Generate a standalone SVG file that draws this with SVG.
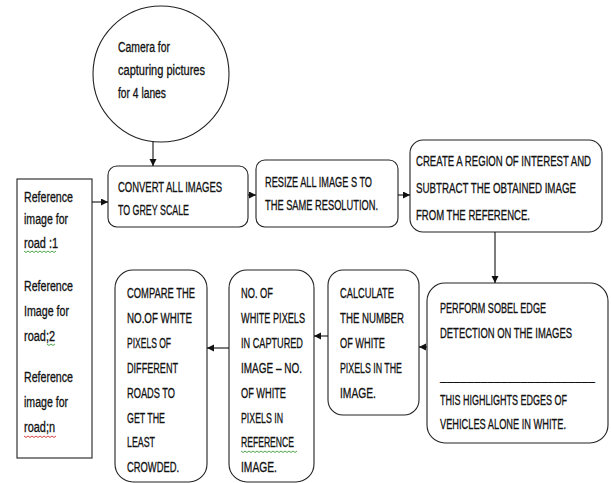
<svg xmlns="http://www.w3.org/2000/svg" width="611" height="483" viewBox="0 0 611 483">
<style>
.shape{fill:#fff;stroke:#222;stroke-width:1.1}
.t{font-family:"Liberation Sans",Arial,sans-serif;font-size:14px;fill:#111;stroke:#111;stroke-width:0.3}
.u{stroke:none}
.conn{stroke:#111;stroke-width:1.1;fill:none;marker-end:url(#arr)}
.sqg{fill:none;stroke:#3a9a3a;stroke-width:0.9}
.sqr{fill:none;stroke:#d03030;stroke-width:0.9}
</style>
<defs>
<marker id="arr" markerUnits="userSpaceOnUse" markerWidth="8" markerHeight="8" refX="7" refY="3.5" orient="auto">
<path d="M0,0 L7,3.5 L0,7 z" fill="#111"/>
</marker>
</defs>
<rect width="611" height="483" fill="#fff"/>

<g id="camera">
<circle class="shape" cx="161" cy="74" r="68"/>
<g transform="translate(118,0) scale(0.66,1)">
<text class="t" x="0" y="52" textLength="78.8" lengthAdjust="spacingAndGlyphs">Camera for</text>
<text class="t" x="0" y="75" textLength="131.8" lengthAdjust="spacingAndGlyphs">capturing pictures</text>
<text class="t" x="0" y="98" textLength="72.7" lengthAdjust="spacingAndGlyphs">for 4 lanes</text>
</g>
</g>

<g id="reference">
<rect class="shape" x="17" y="179" width="75" height="279"/>
<g transform="translate(24,0) scale(0.66,1)">
<text class="t" x="0" y="202" textLength="74.2" lengthAdjust="spacingAndGlyphs">Reference</text>
<text class="t" x="0" y="224" textLength="66.7" lengthAdjust="spacingAndGlyphs">image for</text>
<text class="t" x="0" y="248" textLength="51.5" lengthAdjust="spacingAndGlyphs">road :1</text>
<text class="t" x="0" y="291" textLength="74.2" lengthAdjust="spacingAndGlyphs">Reference</text>
<text class="t" x="0" y="316" textLength="68.2" lengthAdjust="spacingAndGlyphs">Image for</text>
<text class="t" x="0" y="341" textLength="47" lengthAdjust="spacingAndGlyphs">road;2</text>
<text class="t" x="0" y="382" textLength="74.2" lengthAdjust="spacingAndGlyphs">Reference</text>
<text class="t" x="0" y="407" textLength="66.7" lengthAdjust="spacingAndGlyphs">image for</text>
<text class="t" x="0" y="432" textLength="47" lengthAdjust="spacingAndGlyphs">road;n</text>
</g>
<path class="sqg" d="M24,251 l2,1.5 l2,-1.5 l2,1.5 l2,-1.5 l2,1.5 l2,-1.5 l2,1.5 l2,-1.5 l2,1.5 l2,-1.5 l2,1.5 l2,-1.5 l2,1.5 l2,-1.5 l2,1.5 l2,-1.5"/>
<path class="sqg" d="M47,344 l2,1.5 l2,-1.5 l2,1.5 l2,-1.5"/>
<path class="sqr" d="M24,436 l2,1.5 l2,-1.5 l2,1.5 l2,-1.5 l2,1.5 l2,-1.5 l2,1.5 l2,-1.5 l2,1.5 l2,-1.5 l2,1.5 l2,-1.5 l2,1.5 l2,-1.5 l2,1.5 l2,-1.5"/>
</g>

<g id="convert">
<rect class="shape" x="108" y="166" width="140" height="61" rx="9"/>
<g transform="translate(118,0) scale(0.66,1)">
<text class="t" x="0" y="192" textLength="157.6" lengthAdjust="spacingAndGlyphs">CONVERT ALL IMAGES</text>
<text class="t" x="0" y="215" textLength="107.6" lengthAdjust="spacingAndGlyphs">TO GREY SCALE</text>
</g>
</g>

<g id="resize">
<rect class="shape" x="256" y="160" width="142" height="67" rx="9"/>
<g transform="translate(265,0) scale(0.66,1)">
<text class="t" x="0" y="187" textLength="162.1" lengthAdjust="spacingAndGlyphs">RESIZE ALL IMAGE S TO</text>
<text class="t" x="0" y="210" textLength="171.2" lengthAdjust="spacingAndGlyphs">THE SAME RESOLUTION.</text>
</g>
</g>

<g id="roi">
<rect class="shape" x="410" y="140" width="192" height="92" rx="13"/>
<g transform="translate(416,0) scale(0.66,1)">
<text class="t" x="0" y="166" textLength="265.2" lengthAdjust="spacingAndGlyphs">CREATE A REGION OF INTEREST AND</text>
<text class="t" x="0" y="193" textLength="242.4" lengthAdjust="spacingAndGlyphs">SUBTRACT THE OBTAINED IMAGE</text>
<text class="t" x="0" y="220" textLength="172.7" lengthAdjust="spacingAndGlyphs">FROM THE REFERENCE.</text>
</g>
</g>

<g id="sobel">
<rect class="shape" x="427" y="283" width="181" height="160" rx="18"/>
<g transform="translate(440,0) scale(0.66,1)">
<text class="t" x="0" y="313" textLength="160.6" lengthAdjust="spacingAndGlyphs">PERFORM SOBEL EDGE</text>
<text class="t" x="0" y="338" textLength="200" lengthAdjust="spacingAndGlyphs">DETECTION ON THE IMAGES</text>
<text class="t u" x="0" y="380" textLength="234.8" lengthAdjust="spacingAndGlyphs">_______________________</text>
<text class="t" x="0" y="405" textLength="192.4" lengthAdjust="spacingAndGlyphs">THIS HIGHLIGHTS EDGES OF</text>
<text class="t" x="0" y="429" textLength="190.9" lengthAdjust="spacingAndGlyphs">VEHICLES ALONE IN WHITE.</text>
</g>
</g>

<g id="calculate">
<rect class="shape" x="328" y="270" width="91" height="145" rx="15"/>
<g transform="translate(340,0) scale(0.66,1)">
<text class="t" x="0" y="298" textLength="81.8" lengthAdjust="spacingAndGlyphs">CALCULATE</text>
<text class="t" x="0" y="323" textLength="97" lengthAdjust="spacingAndGlyphs">THE NUMBER</text>
<text class="t" x="0" y="348" textLength="68.2" lengthAdjust="spacingAndGlyphs">OF WHITE</text>
<text class="t" x="0" y="373" textLength="93.9" lengthAdjust="spacingAndGlyphs">PIXELS IN THE</text>
<text class="t" x="0" y="398" textLength="54.5" lengthAdjust="spacingAndGlyphs">IMAGE.</text>
</g>
</g>

<g id="difference">
<rect class="shape" x="229" y="270" width="85" height="212" rx="18"/>
<g transform="translate(241,0) scale(0.66,1)">
<text class="t" x="0" y="298" textLength="48.5" lengthAdjust="spacingAndGlyphs">NO. OF</text>
<text class="t" x="0" y="323" textLength="97" lengthAdjust="spacingAndGlyphs">WHITE PIXELS</text>
<text class="t" x="0" y="348" textLength="93.9" lengthAdjust="spacingAndGlyphs">IN CAPTURED</text>
<text class="t" x="0" y="373" textLength="92.4" lengthAdjust="spacingAndGlyphs">IMAGE – NO.</text>
<text class="t" x="0" y="398" textLength="68.2" lengthAdjust="spacingAndGlyphs">OF WHITE</text>
<text class="t" x="0" y="423" textLength="63.6" lengthAdjust="spacingAndGlyphs">PIXELS IN</text>
<text class="t" x="0" y="447" textLength="80.3" lengthAdjust="spacingAndGlyphs">REFERENCE</text>
<text class="t" x="0" y="472" textLength="54.5" lengthAdjust="spacingAndGlyphs">IMAGE.</text>
</g>
<path class="sqg" d="M241,451 l2,1.5 l2,-1.5 l2,1.5 l2,-1.5 l2,1.5 l2,-1.5 l2,1.5 l2,-1.5 l2,1.5 l2,-1.5 l2,1.5 l2,-1.5 l2,1.5 l2,-1.5 l2,1.5 l2,-1.5 l2,1.5 l2,-1.5 l2,1.5 l2,-1.5 l2,1.5 l2,-1.5 l2,1.5 l2,-1.5 l2,1.5 l2,-1.5 l2,1.5 l2,-1.5"/>
</g>

<g id="compare">
<rect class="shape" x="115" y="270" width="92" height="212" rx="18"/>
<g transform="translate(127,0) scale(0.66,1)">
<text class="t" x="0" y="298" textLength="103" lengthAdjust="spacingAndGlyphs">COMPARE THE</text>
<text class="t" x="0" y="323" textLength="98.5" lengthAdjust="spacingAndGlyphs">NO.OF WHITE</text>
<text class="t" x="0" y="348" textLength="66.7" lengthAdjust="spacingAndGlyphs">PIXELS OF</text>
<text class="t" x="0" y="373" textLength="77.3" lengthAdjust="spacingAndGlyphs">DIFFERENT</text>
<text class="t" x="0" y="398" textLength="72.7" lengthAdjust="spacingAndGlyphs">ROADS TO</text>
<text class="t" x="0" y="423" textLength="57.6" lengthAdjust="spacingAndGlyphs">GET THE</text>
<text class="t" x="0" y="447" textLength="42.4" lengthAdjust="spacingAndGlyphs">LEAST</text>
<text class="t" x="0" y="472" textLength="78.8" lengthAdjust="spacingAndGlyphs">CROWDED.</text>
</g>
</g>

<g id="connectors">
<line class="conn" x1="153" y1="141.5" x2="153" y2="166"/>
<line class="conn" x1="92" y1="202" x2="108" y2="202"/>
<line class="conn" x1="248" y1="195" x2="256" y2="195"/>
<line class="conn" x1="398" y1="195" x2="410" y2="195"/>
<line class="conn" x1="495" y1="232" x2="495" y2="283"/>
<line class="conn" x1="427" y1="347" x2="419" y2="347"/>
<line class="conn" x1="328" y1="336" x2="314" y2="336"/>
<line class="conn" x1="229" y1="348" x2="207" y2="348"/>
</g>
</svg>
